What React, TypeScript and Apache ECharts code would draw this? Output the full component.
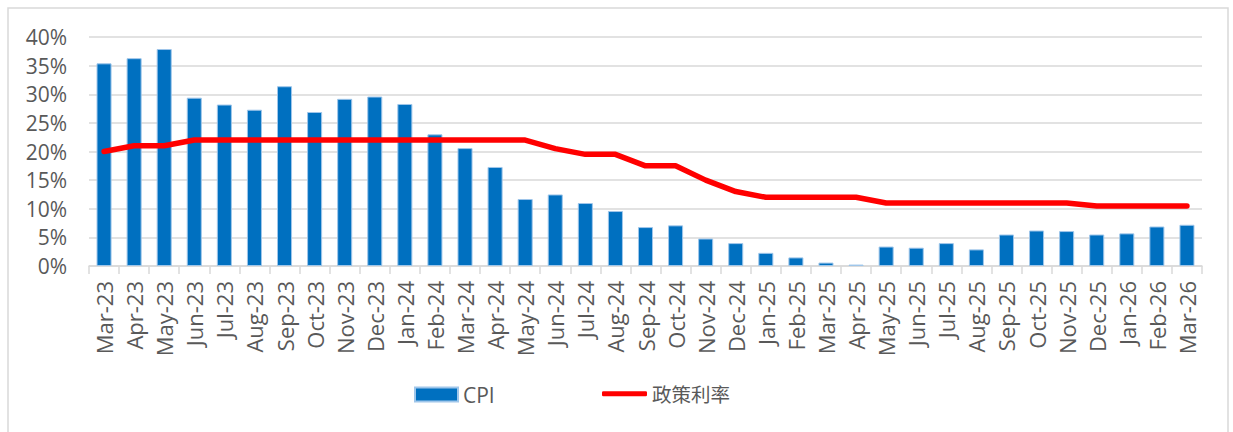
import React, { useEffect, useRef } from "react";
import * as echarts from "echarts";

const categories = [
  "Mar-23", "Apr-23", "May-23", "Jun-23", "Jul-23", "Aug-23", "Sep-23", "Oct-23", "Nov-23", "Dec-23",
  "Jan-24", "Feb-24", "Mar-24", "Apr-24", "May-24", "Jun-24", "Jul-24", "Aug-24", "Sep-24", "Oct-24",
  "Nov-24", "Dec-24", "Jan-25", "Feb-25", "Mar-25", "Apr-25", "May-25", "Jun-25", "Jul-25", "Aug-25",
  "Sep-25", "Oct-25", "Nov-25", "Dec-25", "Jan-26", "Feb-26", "Mar-26",
];

const cpi = [
  35.4, 36.3, 37.9, 29.4, 28.2, 27.3, 31.4, 26.9, 29.2, 29.6,
  28.3, 23.0, 20.6, 17.3, 11.7, 12.5, 11.0, 9.6, 6.8, 7.1,
  4.8, 4.0, 2.3, 1.5, 0.6, 0.25, 3.4, 3.2, 4.0, 2.9,
  5.5, 6.2, 6.1, 5.5, 5.7, 6.9, 7.2,
];

const policyRate = [
  20, 21, 21, 22, 22, 22, 22, 22, 22, 22,
  22, 22, 22, 22, 22, 20.5, 19.5, 19.5, 17.5, 17.5,
  15, 13, 12, 12, 12, 12, 11, 11, 11, 11,
  11, 11, 11, 10.5, 10.5, 10.5, 10.5,
];

const yTicks = { min: 0, max: 40, interval: 5 };

export default function App() {
  const ref = useRef<HTMLDivElement>(null);
  useEffect(() => {
    if (!ref.current) return;
    const chart = echarts.init(ref.current, undefined, { renderer: "svg" });
    const font = "'Open Sans', 'Noto Sans', sans-serif";
    chart.setOption({
      animation: false,
      backgroundColor: "#ffffff",
      graphic: [
        {
          type: "rect",
          shape: { x: 8, y: 8, width: 1220, height: 440 },
          style: { fill: "none", stroke: "#d9d9d9", lineWidth: 1.5 },
          silent: true,
        },
      ],
      grid: { left: 89, right: 31, top: 37, bottom: 166, containLabel: false },
      legend: [
        {
          data: ["CPI"],
          left: 414,
          top: 384,
          padding: 0,
          itemWidth: 43,
          itemHeight: 14,
          icon: "rect",
          textStyle: { fontSize: 21, color: "#595959", fontFamily: font },
        },
        {
          data: ["政策利率"],
          left: 602,
          top: 384,
          padding: 0,
          itemWidth: 45,
          itemHeight: 5,
          icon: "roundRect",
          textStyle: { fontSize: 19.5, color: "#595959", fontFamily: "'Noto Sans CJK SC', sans-serif" },
        },
      ],
      xAxis: {
        type: "category",
        data: categories,
        boundaryGap: true,
        axisLine: { lineStyle: { color: "#d9d9d9", width: 1.5 } },
        axisTick: { show: true, length: 8, lineStyle: { color: "#d9d9d9", width: 1.5 } },
        axisLabel: {
          rotate: 90,
          interval: 0,
          margin: 15,
          fontSize: 22,
          color: "#595959",
          fontFamily: font,
        },
      },
      yAxis: {
        type: "value",
        min: yTicks.min,
        max: yTicks.max,
        interval: yTicks.interval,
        axisLine: { show: false },
        axisTick: { show: false },
        splitLine: { lineStyle: { color: "#d9d9d9", width: 1.5 } },
        axisLabel: {
          formatter: "{value}%",
          fontSize: 21,
          color: "#595959",
          margin: 22,
          fontFamily: font,
        },
      },
      series: [
        {
          name: "CPI",
          type: "bar",
          data: cpi,
          barWidth: "50%",
          itemStyle: { color: "#0070C0", borderColor: "#9fc6ea", borderWidth: 1 },
        },
        {
          name: "政策利率",
          type: "line",
          data: policyRate,
          symbol: "none",
          smooth: false,
          lineStyle: { color: "#FF0000", width: 5.5, cap: "round", join: "round" },
          itemStyle: { color: "#FF0000" },
        },
      ],
    });
    return () => chart.dispose();
  }, []);
  return (
    <div
      ref={ref}
      style={{ position: "fixed", left: 0, top: 0, width: 1233, height: 432 }}
    />
  );
}
